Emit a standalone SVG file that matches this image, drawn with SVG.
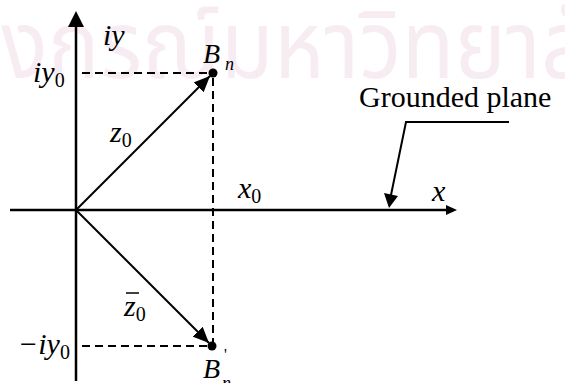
<svg xmlns="http://www.w3.org/2000/svg" width="565" height="383" viewBox="0 0 565 383">
  <style>
    .ax { stroke: #000; stroke-width: 2.5; fill: none; }
    .vec { stroke: #000; stroke-width: 2; fill: none; }
    .dash { stroke: #000; stroke-width: 2; stroke-dasharray: 8 5; fill: none; }
    .lbl { font-family: "Liberation Serif", "Times New Roman", serif; font-style: italic; font-size: 30px; fill: #000; }
    .sub { font-family: "Liberation Serif", "Times New Roman", serif; font-style: normal; font-size: 20px; fill: #000; }
    .bl { font-family: "Liberation Serif", "Times New Roman", serif; font-style: italic; font-size: 28px; fill: #000; }
    .isub { font-family: "Liberation Serif", "Times New Roman", serif; font-style: italic; font-size: 18px; fill: #000; }
    .prime { font-family: "Liberation Serif", "Times New Roman", serif; font-size: 16px; fill: #000; }
    .txt { font-family: "Liberation Serif", "Times New Roman", serif; font-size: 30px; fill: #000; }
    .wm { font-family: "Noto Sans Thai", "Noto Sans", "DejaVu Sans", sans-serif; font-size: 95px; fill: #f8ecf3; }
  </style>
  <defs>
    <marker id="ah" viewBox="0 0 16 14" refX="16" refY="7" markerWidth="16" markerHeight="14" markerUnits="userSpaceOnUse" orient="auto">
      <path d="M0,0 L16,7 L0,14 z" fill="#000"/>
    </marker>
  </defs>

  <text id="watermark" class="wm" transform="translate(-48,78) scale(0.91,1)" x="0" y="0">ลงกรณ์มหาวิทยาลัย</text>

  <g id="axes">
    <line class="ax" x1="76" y1="26" x2="76" y2="381"/>
    <polygon points="76,11 68,27 84,27" fill="#000"/>
    <line class="ax" x1="10" y1="210" x2="447" y2="210"/>
    <polygon points="457,210 446,205 446,215" fill="#000"/>
  </g>

  <g id="connectors">
    <line class="vec" x1="76" y1="210" x2="210" y2="76" marker-end="url(#ah)"/>
    <line class="vec" x1="76" y1="210" x2="209" y2="343" marker-end="url(#ah)"/>
    <line class="dash" x1="82" y1="73" x2="210" y2="73"/>
    <line class="dash" x1="213" y1="78" x2="213" y2="342"/>
    <line class="dash" x1="82" y1="346" x2="208" y2="346"/>
    <polyline class="vec" points="509,122 406,122 391,195"/>
    <polygon points="389,208 384,193 398,196" fill="#000"/>
  </g>

  <g id="node-Bn">
    <circle cx="213" cy="73" r="4.5" fill="#000"/>
    <text class="bl" x="203" y="63">B</text>
    <text class="isub" x="225" y="70">n</text>
  </g>

  <g id="node-Bn-prime">
    <circle cx="212" cy="346" r="4.5" fill="#000"/>
    <text class="bl" x="203" y="378">B</text>
    <text class="prime" x="224" y="360">'</text>
    <text class="isub" x="222" y="389">n</text>
  </g>

  <g id="labels">
    <text class="lbl" x="103" y="45">iy</text>
    <text class="lbl" x="33" y="82">iy<tspan class="sub" dy="5">0</tspan></text>
    <text class="lbl" x="18" y="354">−iy<tspan class="sub" dy="5">0</tspan></text>
    <text class="lbl" x="110" y="142">z<tspan class="sub" dy="5">0</tspan></text>
    <text class="lbl" x="124" y="316">z<tspan class="sub" dy="5">0</tspan></text>
    <line x1="126" y1="293" x2="139" y2="293" stroke="#000" stroke-width="1.5"/>
    <text class="lbl" x="238" y="198">x<tspan class="sub" dy="5">0</tspan></text>
    <text class="lbl" x="432" y="201">x</text>
  </g>

  <g id="node-grounded-plane">
    <text class="txt" x="359" y="107">Grounded plane</text>
  </g>
</svg>
